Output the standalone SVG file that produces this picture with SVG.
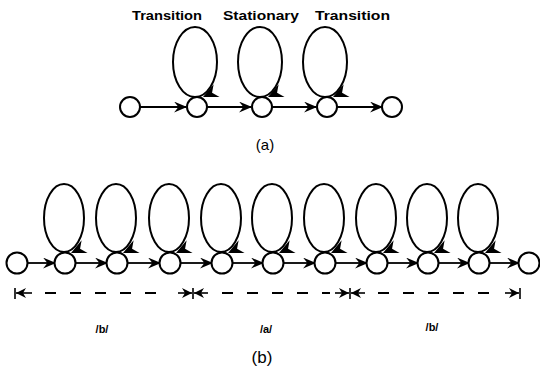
<svg xmlns="http://www.w3.org/2000/svg" width="540" height="368" viewBox="0 0 540 368">
<style>
.n{fill:#fff;stroke:#000;stroke-width:2}
.lp{fill:none;stroke:#000;stroke-width:2}
.e{fill:none;stroke:#000;stroke-width:1.8;marker-end:url(#ah)}
.d{fill:none;stroke:#000;stroke-width:1.8;stroke-dasharray:11 14}
.t{stroke:#000;stroke-width:1.6}
.s{stroke:#000;stroke-width:1.6}
.lbl{font-family:"Liberation Sans",Arial,sans-serif;font-weight:bold;font-size:12px;fill:#000}
.cap{font-family:"Liberation Sans",Arial,sans-serif;font-size:15px;fill:#000;text-anchor:middle}
.ph{font-family:"Liberation Sans",Arial,sans-serif;font-weight:bold;font-size:11px;fill:#000;text-anchor:middle}
</style>
<defs>
<marker id="ah" viewBox="0 0 12 10" refX="11" refY="5" markerWidth="13" markerHeight="11" markerUnits="userSpaceOnUse" orient="auto">
<path d="M0,0 L12,5 L0,10 L4,5 z" fill="#000"/>
</marker>
<marker id="ad" viewBox="0 0 10 10" refX="10" refY="5" markerWidth="10" markerHeight="10" markerUnits="userSpaceOnUse" orient="auto">
<path d="M0,0 L10,5 L0,10 L3,5 z" fill="#000"/>
</marker>
<path id="la" d="M0,0 L-15,-7 L-10,0 L-15,7 z" fill="#000"/>
</defs>

<g id="labels-a">
<text class="lbl" x="132" y="20" textLength="70" lengthAdjust="spacingAndGlyphs">Transition</text>
<text class="lbl" x="223" y="20" textLength="76" lengthAdjust="spacingAndGlyphs">Stationary</text>
<text class="lbl" x="315" y="20" textLength="75" lengthAdjust="spacingAndGlyphs">Transition</text>
</g>

<g id="connectors-a">
<line class="e" x1="140" y1="107" x2="186" y2="107"/>
<line class="e" x1="207" y1="107" x2="251" y2="107"/>
<line class="e" x1="272" y1="107" x2="316" y2="107"/>
<line class="e" x1="337" y1="107" x2="382" y2="107"/>
<ellipse class="lp" cx="195" cy="62" rx="22" ry="35"/>
<ellipse class="lp" cx="260" cy="62" rx="22" ry="35"/>
<ellipse class="lp" cx="325" cy="62" rx="22" ry="35"/>
<use href="#la" transform="translate(203,97) rotate(155)"/>
<use href="#la" transform="translate(268,97) rotate(155)"/>
<use href="#la" transform="translate(333,97) rotate(155)"/>
</g>

<g id="a1"><circle class="n" cx="130" cy="107" r="10"/></g>
<g id="a2"><circle class="n" cx="197" cy="107" r="10"/></g>
<g id="a3"><circle class="n" cx="262" cy="107" r="10"/></g>
<g id="a4"><circle class="n" cx="327" cy="107" r="10"/></g>
<g id="a5"><circle class="n" cx="392" cy="107" r="10"/></g>

<text class="cap" x="265" y="150">(a)</text>

<g id="connectors-b">
<line class="e" x1="28" y1="263" x2="55" y2="263"/>
<line class="e" x1="76" y1="263" x2="107" y2="263"/>
<line class="e" x1="128" y1="263" x2="160" y2="263"/>
<line class="e" x1="181" y1="263" x2="212" y2="263"/>
<line class="e" x1="233" y1="263" x2="263" y2="263"/>
<line class="e" x1="284" y1="263" x2="315" y2="263"/>
<line class="e" x1="336" y1="263" x2="367" y2="263"/>
<line class="e" x1="388" y1="263" x2="418" y2="263"/>
<line class="e" x1="439" y1="263" x2="469" y2="263"/>
<line class="e" x1="490" y1="263" x2="519" y2="263"/>
<ellipse class="lp" cx="64" cy="218" rx="20" ry="34"/>
<ellipse class="lp" cx="116" cy="218" rx="20" ry="34"/>
<ellipse class="lp" cx="169" cy="218" rx="20" ry="34"/>
<ellipse class="lp" cx="221" cy="218" rx="20" ry="34"/>
<ellipse class="lp" cx="272" cy="218" rx="20" ry="34"/>
<ellipse class="lp" cx="324" cy="218" rx="20" ry="34"/>
<ellipse class="lp" cx="376" cy="218" rx="20" ry="34"/>
<ellipse class="lp" cx="427" cy="218" rx="20" ry="34"/>
<ellipse class="lp" cx="478" cy="218" rx="20" ry="34"/>
<use href="#la" transform="translate(71,253) rotate(155)"/>
<use href="#la" transform="translate(123,253) rotate(155)"/>
<use href="#la" transform="translate(176,253) rotate(155)"/>
<use href="#la" transform="translate(228,253) rotate(155)"/>
<use href="#la" transform="translate(279,253) rotate(155)"/>
<use href="#la" transform="translate(331,253) rotate(155)"/>
<use href="#la" transform="translate(383,253) rotate(155)"/>
<use href="#la" transform="translate(434,253) rotate(155)"/>
<use href="#la" transform="translate(485,253) rotate(155)"/>
</g>

<g id="b1"><circle class="n" cx="17" cy="263" r="10.5"/></g>
<g id="b2"><circle class="n" cx="65" cy="263" r="10.5"/></g>
<g id="b3"><circle class="n" cx="117" cy="263" r="10.5"/></g>
<g id="b4"><circle class="n" cx="170" cy="263" r="10.5"/></g>
<g id="b5"><circle class="n" cx="222" cy="263" r="10.5"/></g>
<g id="b6"><circle class="n" cx="273" cy="263" r="10.5"/></g>
<g id="b7"><circle class="n" cx="325" cy="263" r="10.5"/></g>
<g id="b8"><circle class="n" cx="377" cy="263" r="10.5"/></g>
<g id="b9"><circle class="n" cx="428" cy="263" r="10.5"/></g>
<g id="b10"><circle class="n" cx="479" cy="263" r="10.5"/></g>
<g id="b11"><circle class="n" cx="529" cy="263" r="10.5"/></g>

<g id="dimensions">
<line class="t" x1="15" y1="288" x2="15" y2="299"/>
<line class="t" x1="193" y1="288" x2="193" y2="299"/>
<line class="t" x1="350" y1="288" x2="350" y2="299"/>
<line class="t" x1="520" y1="288" x2="520" y2="299"/>
<line class="s" x1="32" y1="293" x2="16" y2="293" marker-end="url(#ad)"/>
<line class="d" x1="45" y1="293" x2="170" y2="293"/>
<line class="s" x1="178" y1="293" x2="192" y2="293" marker-end="url(#ad)"/>
<line class="s" x1="208" y1="293" x2="194" y2="293" marker-end="url(#ad)"/>
<line class="d" x1="222" y1="293" x2="330" y2="293"/>
<line class="s" x1="335" y1="293" x2="349" y2="293" marker-end="url(#ad)"/>
<line class="s" x1="365" y1="293" x2="351" y2="293" marker-end="url(#ad)"/>
<line class="d" x1="378" y1="293" x2="500" y2="293"/>
<line class="s" x1="505" y1="293" x2="519" y2="293" marker-end="url(#ad)"/>
</g>

<text class="ph" x="102" y="333">/b/</text>
<text class="ph" x="266" y="333">/a/</text>
<text class="ph" x="432" y="331">/b/</text>
<text class="cap" x="262" y="363" style="font-size:17px">(b)</text>
</svg>
